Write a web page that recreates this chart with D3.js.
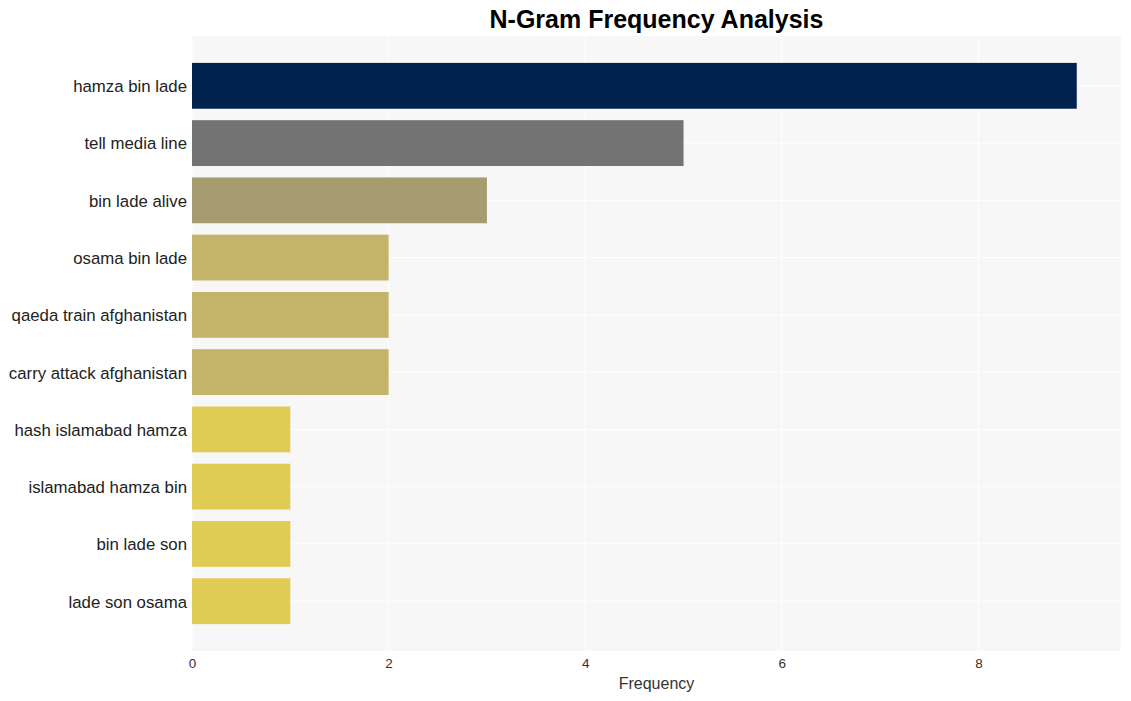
<!DOCTYPE html>
<html>
<head>
<meta charset="utf-8">
<script src="https://cdn.jsdelivr.net/npm/d3@7"></script>
<style>
  body { margin: 0; background: #fff; }
  svg { font-family: "Liberation Sans", Arial, sans-serif; }
</style>
</head>
<body>
<script>
// chart data
const categories = ["hamza bin lade", "tell media line", "bin lade alive", "osama bin lade",
  "qaeda train afghanistan", "carry attack afghanistan", "hash islamabad hamza",
  "islamabad hamza bin", "bin lade son", "lade son osama"];
const counts = [9, 5, 3, 2, 2, 2, 1, 1, 1, 1];
const xTicks = [0, 2, 4, 6, 8];

const width = 1131, height = 701;
const plotLeft = 192, plotRight = 1121, plotTop = 36, plotBottom = 651;

// colour by count
const colourFor = {9: "#00224e", 5: "#737373", 3: "#a59c72", 2: "#c3b46a", 1: "#e0cc55"};

const svg = d3.select("body").append("svg")
  .attr("width", width)
  .attr("height", height);

const xScale = d3.scaleLinear().domain([0, 9.45]).range([plotLeft, plotRight]);
const yScale = d3.scaleBand()
  .domain(categories)
  .range([plotTop, plotBottom])
  .paddingInner(0.2)
  .paddingOuter(0.47);

// plot background
svg.append("rect")
  .attr("x", plotLeft).attr("y", plotTop)
  .attr("width", plotRight - plotLeft).attr("height", plotBottom - plotTop)
  .attr("fill", "#f7f7f7");

// grid lines
svg.append("g").selectAll("line")
  .data(xTicks)
  .enter().append("line")
    .attr("x1", d => xScale(d)).attr("x2", d => xScale(d))
    .attr("y1", plotTop).attr("y2", plotBottom)
    .attr("stroke", "#fff").attr("stroke-width", 1);

svg.append("g").selectAll("line")
  .data(categories)
  .enter().append("line")
    .attr("x1", plotLeft).attr("x2", plotRight)
    .attr("y1", d => yScale(d) + yScale.bandwidth() / 2)
    .attr("y2", d => yScale(d) + yScale.bandwidth() / 2)
    .attr("stroke", "#fff").attr("stroke-width", 1);

// bars
svg.append("g").selectAll("rect")
  .data(categories)
  .enter().append("rect")
    .attr("x", xScale(0))
    .attr("y", d => yScale(d))
    .attr("width", (d, i) => xScale(counts[i]) - xScale(0))
    .attr("height", yScale.bandwidth())
    .attr("fill", (d, i) => colourFor[counts[i]]);

// x axis
const xAxis = svg.append("g")
  .attr("transform", `translate(0, ${plotBottom})`)
  .call(d3.axisBottom(xScale).tickValues(xTicks).tickSize(0).tickPadding(7));
xAxis.select(".domain").remove();
xAxis.selectAll("text")
  .style("font-size", "13.5px")
  .style("font-family", "'Liberation Sans', Arial, sans-serif")
  .attr("fill", "#333");

// y axis
const yAxis = svg.append("g")
  .attr("transform", `translate(${plotLeft}, 1)`)
  .call(d3.axisLeft(yScale).tickSize(0).tickPadding(5));
yAxis.select(".domain").remove();
yAxis.selectAll("text")
  .style("font-size", "16.8px")
  .style("font-family", "'Liberation Sans', Arial, sans-serif")
  .attr("fill", "#222");

// axis title
svg.append("text")
  .attr("x", (plotLeft + plotRight) / 2)
  .attr("y", 689)
  .attr("text-anchor", "middle")
  .style("font-size", "16px")
  .attr("fill", "#333")
  .text("Frequency");

// title
svg.append("text")
  .attr("x", (plotLeft + plotRight) / 2)
  .attr("y", 28)
  .attr("text-anchor", "middle")
  .style("font-size", "25px")
  .style("font-weight", "bold")
  .attr("fill", "#000")
  .text("N-Gram Frequency Analysis");
</script>
</body>
</html>
